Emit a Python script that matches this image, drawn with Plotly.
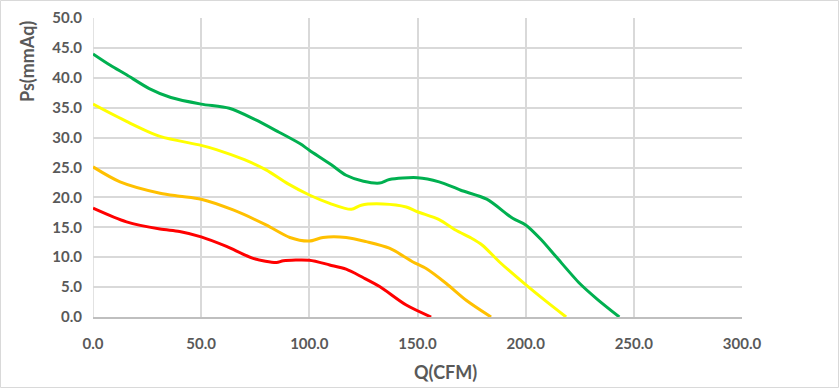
import plotly.graph_objects as go

green_q = [0, 8, 15.5, 26, 36, 50, 63, 75, 86, 95.6, 100, 110, 117, 125, 132.5, 137, 150, 160, 170, 182, 194, 200, 207, 214, 225, 233, 243.3]
green_p = [44.0, 42.1, 40.5, 38.2, 36.7, 35.6, 34.9, 33.0, 30.9, 29.0, 27.9, 25.5, 23.7, 22.7, 22.4, 23.0, 23.3, 22.6, 21.2, 19.7, 16.5, 15.4, 13.0, 10.1, 5.6, 3.0, 0.0]

yellow_q = [0, 15.5, 31, 50, 57, 70, 80, 90, 100, 109.4, 119.4, 124, 134, 144.8, 150, 160, 167.8, 174.8, 180, 187.9, 200, 209.5, 218.7]
yellow_p = [35.6, 32.7, 30.2, 28.7, 28.0, 26.3, 24.6, 22.3, 20.4, 19.0, 18.0, 18.7, 18.9, 18.4, 17.6, 16.3, 14.5, 13.2, 12.0, 9.2, 5.4, 2.6, 0.0]

orange_q = [0, 12.5, 31, 40, 50, 64.8, 80, 91, 100, 106.3, 117, 126.3, 137, 147.9, 154, 163.3, 172.5, 184]
orange_p = [25.1, 22.6, 20.7, 20.2, 19.7, 17.9, 15.4, 13.3, 12.7, 13.3, 13.3, 12.6, 11.5, 9.2, 8.1, 5.6, 2.8, 0.0]

red_q = [0, 15.5, 31, 40, 50, 61.7, 74, 84.8, 88, 100, 109.4, 117, 124.8, 132.5, 144.8, 156.3]
red_p = [18.2, 15.9, 14.7, 14.3, 13.4, 11.8, 9.8, 9.1, 9.4, 9.5, 8.7, 8.0, 6.6, 5.1, 2.0, 0.0]

x_ticks = [0, 50, 100, 150, 200, 250, 300]
y_ticks = [0, 5, 10, 15, 20, 25, 30, 35, 40, 45, 50]

series = [
    (green_q, green_p, "#00B050"),
    (yellow_q, yellow_p, "#FFFF00"),
    (orange_q, orange_p, "#FFC000"),
    (red_q, red_p, "#FF0000"),
]

fig = go.Figure()
for q, p, c in series:
    fig.add_trace(go.Scatter(x=q, y=p, mode="lines",
                             line=dict(color=c, width=3, shape="spline", smoothing=0.8),
                             showlegend=False, hoverinfo="skip"))

W, H = 839, 388
L, R, T, B = 93, 97, 18, 71
pw, ph = W - L - R, H - T - B

tickfont = dict(size=15, color="#595959", weight="bold")
fig.update_layout(
    width=W, height=H,
    margin=dict(l=L, r=R, t=T, b=B, autoexpand=False),
    paper_bgcolor="white", plot_bgcolor="white",
    font=dict(family="Lato, 'Open Sans', sans-serif", color="#595959"),
    xaxis=dict(range=[0, 300], tickvals=x_ticks, ticktext=[f"{v:.1f}" for v in x_ticks],
               showgrid=True, gridcolor="#D9D9D9", gridwidth=1.5,
               showline=True, linecolor="#BFBFBF", linewidth=2,
               zeroline=False, ticks="", ticklabelstandoff=12, automargin=False,
               tickfont=tickfont),
    yaxis=dict(range=[0, 50], tickvals=y_ticks, ticktext=[f"{v:.1f}" for v in y_ticks],
               showgrid=True, gridcolor="#D9D9D9", gridwidth=1.5,
               showline=False, zeroline=False, ticks="", ticklabelstandoff=10, automargin=False,
               tickfont=tickfont),
)

fig.add_annotation(text="Q(CFM)", xref="paper", yref="paper",
                   x=(445 - L) / pw, y=(H - B - 372) / ph, showarrow=False,
                   xanchor="center", yanchor="middle",
                   font=dict(size=18, color="#595959", weight="bold"))
fig.add_annotation(text="Ps(mmAq)", xref="paper", yref="paper",
                   x=(27 - L) / pw, y=(H - B - 62) / ph, showarrow=False,
                   xanchor="center", yanchor="middle", textangle=-90,
                   font=dict(size=18, color="#595959", weight="bold"))

fig.add_shape(type="line", xref="x", yref="y", x0=0, x1=0, y0=0, y1=50,
              line=dict(color="#D9D9D9", width=1.5), layer="below")

fig.add_shape(type="rect", xref="paper", yref="paper",
              x0=(0.5 - L) / pw, x1=(W - 0.5 - L) / pw,
              y0=(H - B - (H - 0.5)) / ph, y1=(H - B - 0.5) / ph,
              line=dict(color="#D9D9D9", width=1), fillcolor="rgba(0,0,0,0)")

fig.write_html("out.html", config={"displayModeBar": False},
               post_script="document.body.style.margin='0';document.body.style.overflow='hidden';")
